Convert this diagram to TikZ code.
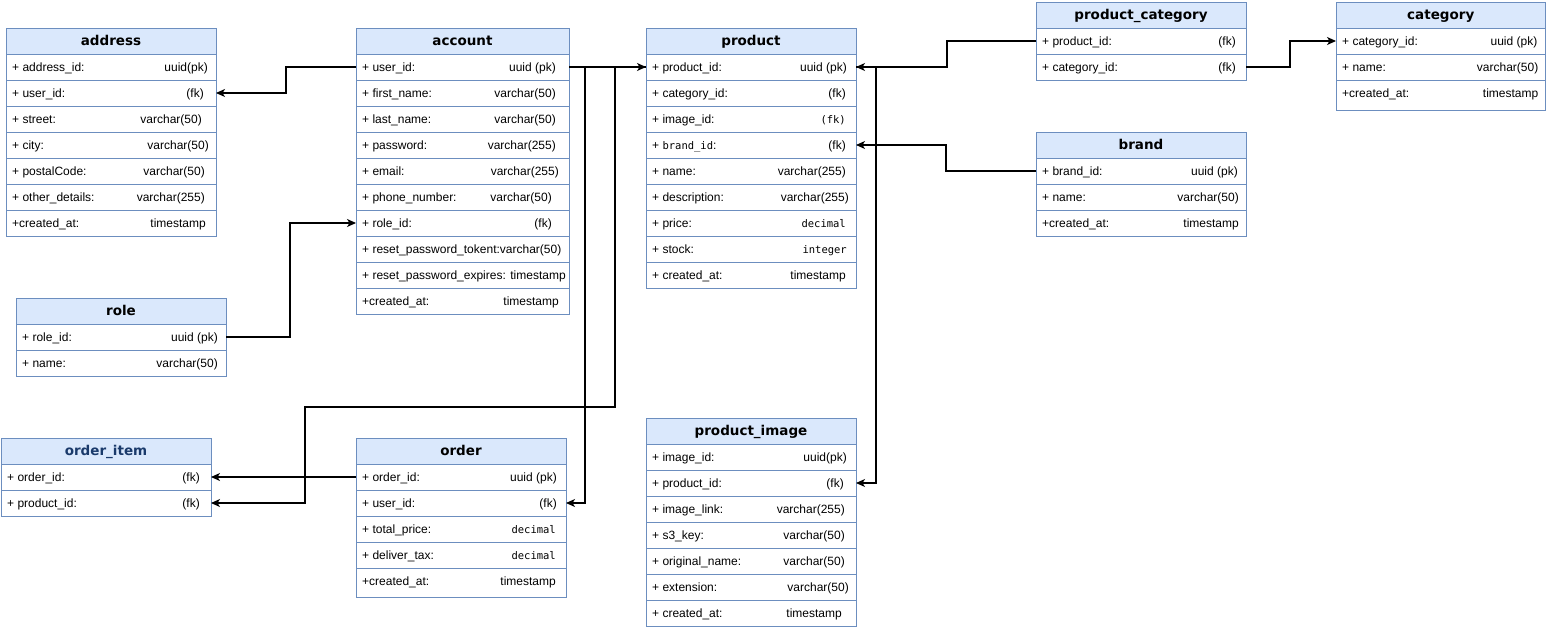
\documentclass[tikz,border=0pt]{standalone}
\usepackage{fontspec}
\setmainfont{Liberation Sans}
\newfontfamily\hfam{DejaVu Sans}
\newfontfamily\mfam{DejaVu Sans Mono}
\usetikzlibrary{arrows.meta}
\definecolor{bordc}{HTML}{6C8EBF}
\definecolor{hdrc}{HTML}{DAE8FC}
\definecolor{oicol}{HTML}{1A3A6B}
\newcommand\rowfnt{\fontsize{12}{14}\selectfont}
\newcommand\hdrfnt{\hfam\bfseries\fontsize{13.5}{15}\selectfont}
\newcommand\mono[1]{{\mfam\fontsize{10.5}{12}\selectfont #1}}
\tikzset{
  hdrbox/.style={draw=bordc, fill=hdrc, anchor=north west, minimum height=26pt,
    inner sep=0pt, outer sep=0pt, font=\hdrfnt, text height=9.5pt, text depth=0.5pt, line width=0.9pt},
  rowbox/.style={draw=bordc, fill=white, anchor=north west,
    inner sep=0pt, outer sep=0pt, line width=0.9pt},
  lefttext/.style={anchor=base west, inner sep=0pt, font=\rowfnt},
  righttext/.style={anchor=base east, inner sep=0pt, font=\rowfnt},
  arr/.style={draw=black, line width=1.2pt, -{Stealth[length=9pt,width=8pt,inset=2.5pt]}}
}
\newcommand\tblhead[5]{%
  \node[hdrbox, minimum width=#4pt] (#1-0) at (#2,#3) {#5};
  \def\curw{#4}}
\newcommand\tblrow[7][26pt]{%
  \node[rowbox, minimum width=\curw pt, minimum height=#1] (#2-#3) at (#2-#4.south west) {};
  \node[lefttext] at ([xshift=6pt,yshift=-17.3pt]#2-#3.north west) {#5};
  \node[righttext] at ([xshift=-#7pt,yshift=-17.3pt]#2-#3.north east) {#6};}
\begin{document}
\begin{tikzpicture}[x=1pt,y=-1pt]
\fill[white] (0,0) rectangle (1546,631);
\useasboundingbox (0,0) rectangle (1546,631);

% address
\tblhead{addr}{6}{28}{210}{address}
\tblrow{addr}{1}{0}{+ address\_id:}{uuid(pk)}{8}
\tblrow{addr}{2}{1}{+ user\_id:}{(fk)}{12}
\tblrow{addr}{3}{2}{+ street:}{varchar(50)}{14}
\tblrow{addr}{4}{3}{+ city:}{varchar(50)}{7}
\tblrow{addr}{5}{4}{+ postalCode:}{varchar(50)}{11}
\tblrow{addr}{6}{5}{+ other\_details:}{varchar(255)}{11}
\tblrow{addr}{7}{6}{+created\_at:}{timestamp}{10}

% account
\tblhead{acc}{356}{28}{213}{account}
\tblrow{acc}{1}{0}{+ user\_id:}{uuid (pk)}{13}
\tblrow{acc}{2}{1}{+ first\_name:}{varchar(50)}{13}
\tblrow{acc}{3}{2}{+ last\_name:}{varchar(50)}{13}
\tblrow{acc}{4}{3}{+ password:}{varchar(255)}{13}
\tblrow{acc}{5}{4}{+ email:}{varchar(255)}{10}
\tblrow{acc}{6}{5}{+ phone\_number:}{varchar(50)}{17}
\tblrow{acc}{7}{6}{+ role\_id:}{(fk)}{17}
\tblrow{acc}{8}{7}{+ reset\_password\_tokent:varchar(50)}{}{10}
\tblrow{acc}{9}{8}{+ reset\_password\_expires: timestamp}{}{10}
\tblrow{acc}{10}{9}{+created\_at:}{timestamp}{10}

% product
\tblhead{prod}{646}{28}{210}{product}
\tblrow{prod}{1}{0}{+ product\_id:}{uuid (pk)}{9}
\tblrow{prod}{2}{1}{+ category\_id:}{(fk)}{10}
\tblrow{prod}{3}{2}{+ image\_id:}{\mono{(fk)}}{10}
\tblrow{prod}{4}{3}{+ \mono{brand\_id}:}{(fk)}{10}
\tblrow{prod}{5}{4}{+ name:}{varchar(255)}{10}
\tblrow{prod}{6}{5}{+ description:}{varchar(255)}{7}
\tblrow{prod}{7}{6}{+ price:}{\mono{decimal}}{10}
\tblrow{prod}{8}{7}{+ stock:}{\mono{integer}}{9}
\tblrow{prod}{9}{8}{+ created\_at:}{timestamp}{10}

% product_category
\tblhead{pc}{1036}{2}{210}{product\_category}
\tblrow{pc}{1}{0}{+ product\_id:}{(fk)}{10}
\tblrow{pc}{2}{1}{+ category\_id:}{(fk)}{10}

% category
\tblhead{cat}{1336}{2}{209.5}{category}
\tblrow{cat}{1}{0}{+ category\_id:}{uuid (pk)}{8}
\tblrow{cat}{2}{1}{+ name:}{varchar(50)}{7}
\tblrow[30pt]{cat}{3}{2}{+created\_at:}{timestamp}{7}

% brand
\tblhead{brand}{1036}{132}{210}{brand}
\tblrow{brand}{1}{0}{+ brand\_id:}{uuid (pk)}{8}
\tblrow{brand}{2}{1}{+ name:}{varchar(50)}{7}
\tblrow{brand}{3}{2}{+created\_at:}{timestamp}{7}

% role
\tblhead{role}{16}{298}{210}{role}
\tblrow{role}{1}{0}{+ role\_id:}{uuid (pk)}{8}
\tblrow{role}{2}{1}{+ name:}{varchar(50)}{8}

% order_item
\tblhead{oi}{1}{438}{210}{\textcolor{oicol}{order\_item}}
\tblrow{oi}{1}{0}{+ order\_id:}{(fk)}{11}
\tblrow{oi}{2}{1}{+ product\_id:}{(fk)}{11}

% order
\tblhead{ord}{356}{438}{210}{order}
\tblrow{ord}{1}{0}{+ order\_id:}{uuid (pk)}{9}
\tblrow{ord}{2}{1}{+ user\_id:}{(fk)}{9}
\tblrow{ord}{3}{2}{+ total\_price:}{\mono{decimal}}{10}
\tblrow{ord}{4}{3}{+ deliver\_tax:}{\mono{decimal}}{10}
\tblrow[29pt]{ord}{5}{4}{+created\_at:}{timestamp}{10}

% product_image
\tblhead{pi}{646}{418}{210}{product\_image}
\tblrow{pi}{1}{0}{+ image\_id:}{uuid(pk)}{9}
\tblrow{pi}{2}{1}{+ product\_id:}{(fk)}{12}
\tblrow{pi}{3}{2}{+ image\_link:}{varchar(255)}{11}
\tblrow{pi}{4}{3}{+ s3\_key:}{varchar(50)}{11}
\tblrow{pi}{5}{4}{+ original\_name:}{varchar(50)}{11}
\tblrow{pi}{6}{5}{+ extension:}{varchar(50)}{7}
\tblrow{pi}{7}{6}{+ created\_at:}{timestamp}{14}

% connectors
\coordinate (j1) at (615,407);
\coordinate (j2) at (305,407);
\draw[arr] (acc-1.east) -- (prod-1.west);
\draw[arr] (acc-1.west) -- ++(-70pt,0) |- (addr-2.east);
\draw[arr] (role-1.east) -- ++(64pt,0) |- (acc-7.west);
\draw[arr] (acc-1.east) -- ++(16pt,0) |- (ord-2.east);
\draw[arr] (prod-1.west) -| (j1) -- (j2) |- (oi-2.east);
\draw[arr] (ord-1.west) -- (oi-1.east);
\draw[arr] (pc-1.west) -- ++(-89pt,0) |- (prod-1.east);
\draw[arr] (pc-2.east) -- ++(44pt,0) |- (cat-1.west);
\draw[arr] (brand-1.west) -- ++(-90pt,0) |- (prod-4.east);
\draw[arr] (prod-1.east) -- ++(20pt,0) |- (pi-2.east);
\end{tikzpicture}
\end{document}
